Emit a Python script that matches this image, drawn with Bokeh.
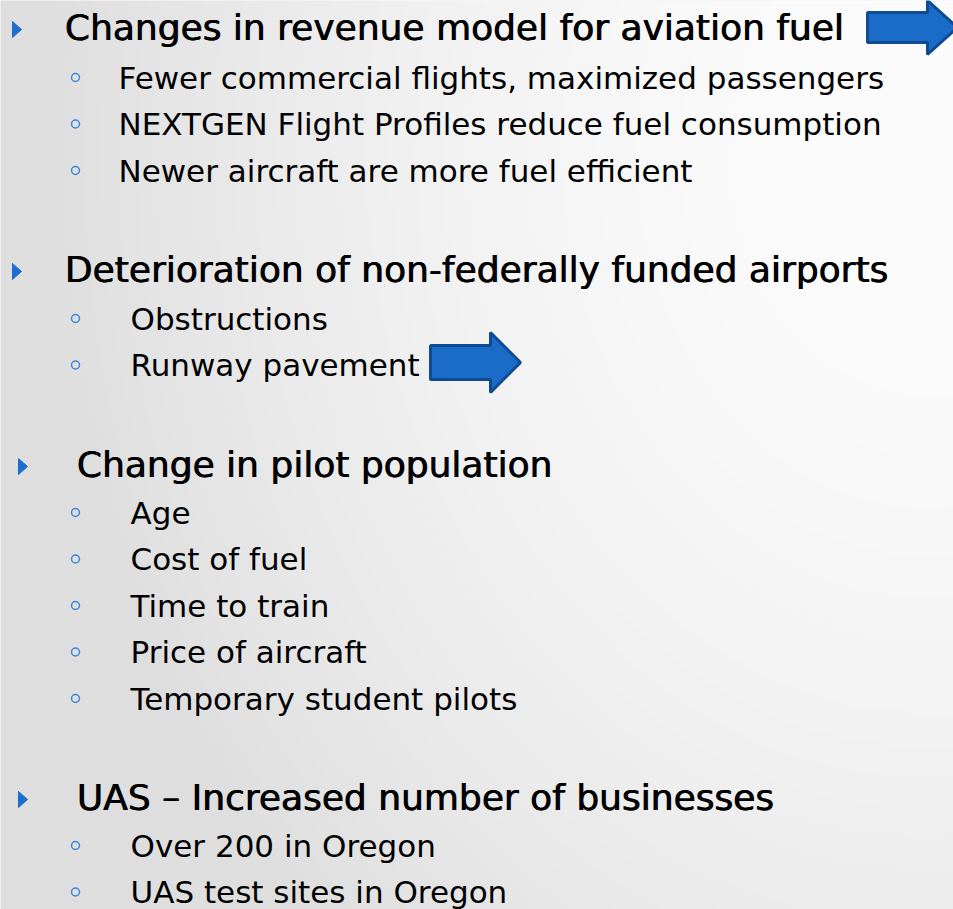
import numpy as np
from bokeh.plotting import figure
from bokeh.models import Range1d
from bokeh.core.properties import value
from bokeh.embed import file_html
from bokeh.resources import INLINE

# ---- slide content ----
headings = [
    "Changes in revenue model for aviation fuel",
    "Deterioration of non-federally funded airports",
    "Change in pilot population",
    "UAS \u2013 Increased number of businesses",
]
sub_items = [
    ["Fewer commercial flights, maximized passengers",
     "NEXTGEN Flight Profiles reduce fuel consumption",
     "Newer aircraft are more fuel efficient"],
    ["Obstructions", "Runway pavement"],
    ["Age", "Cost of fuel", "Time to train", "Price of aircraft",
     "Temporary student pilots"],
    ["Over 200 in Oregon", "UAS test sites in Oregon"],
]

# ---- layout (screen pixels of the slide) ----
head_baseline = [38, 280, 475, 808]
head_x = [64, 64, 76, 76]
tri_x = [12, 12, 18, 18]
sub_x = [118, 130, 130, 130]
sub_first = [87, 328, 522, 855]
sub_step = 46.5
circle_x = 75
head_shift = -11   # renderer baseline correction
sub_shift = -10

W, H = 953, 909
p = figure(width=W, height=H, output_backend="svg", toolbar_location=None,
           x_range=Range1d(0, W), y_range=Range1d(H, 0),
           min_border=0)
p.axis.visible = False
p.grid.visible = False
p.outline_line_color = None
p.background_fill_color = "#eeeeee"
p.border_fill_color = "#eeeeee"

# background gradient (lighter toward upper right, grey at left)
nx, ny = 240, 228
gx = np.linspace(0, W, nx)
gy = np.linspace(0, H, ny)
GX, GY = np.meshgrid(gx, gy)
d = np.sqrt(((GX - 930) / 900.0) ** 2 + ((GY - 150) / 1100.0) ** 2)
v = (252 - 30 * np.clip(d, 0, 1) ** 1.8).astype(np.uint32)
img = ((255 << 24) | (v << 16) | (v << 8) | v).astype(np.uint32)
p.image_rgba(image=[img], x=0, y=0, dw=W, dh=H)

font = value("DejaVu Sans")

# headings (drawn twice with a sub-pixel offset for a semi-bold look)
for off in (0.0, 0.8):
    p.text(x=[hx + off for hx in head_x],
           y=[b + head_shift for b in head_baseline], text=headings,
           text_font=font, text_font_size="36px", text_font_style="normal",
           text_color="#000000", text_baseline="alphabetic",
           text_align="left")
# heading bullets (triangles)
tri_xs, tri_ys = [], []
for tx, hb in zip(tri_x, head_baseline):
    cy = hb - 9
    tri_xs.append([tx, tx + 9, tx])
    tri_ys.append([cy - 8, cy, cy + 8])
p.patches(tri_xs, tri_ys, fill_color="#1c6fcf", line_color="#1c6fcf")

# sub items
sx, sy, st, cx, cy = [], [], [], [], []
for g, items in enumerate(sub_items):
    for i, t in enumerate(items):
        b = sub_first[g] + i * sub_step
        sx.append(sub_x[g]); sy.append(b + sub_shift); st.append(t)
        cx.append(circle_x); cy.append(b - 10)
p.text(x=sx, y=sy, text=st, text_font=font, text_font_size="31px",
       text_color="#000000", text_baseline="alphabetic", text_align="left")
p.scatter(x=cx, y=cy, size=8, marker="circle", fill_color=None,
          line_color="#3a86d8", line_width=1.5)

# block arrows
def arrow(x0, x1, x2, yc, hs, hh):
    return ([x0, x1, x1, x2, x1, x1, x0],
            [yc - hs, yc - hs, yc - hh, yc, yc + hh, yc + hs, yc + hs])

a1 = arrow(867, 927, 957, 27, 15, 27)
a2 = arrow(430, 490, 520, 362, 17, 30)
p.patches([a1[0], a2[0]], [a1[1], a2[1]], fill_color="#1b6cc8",
          line_color="#0e4b90", line_width=3)

open("out.html", "w").write(file_html(p, INLINE))
